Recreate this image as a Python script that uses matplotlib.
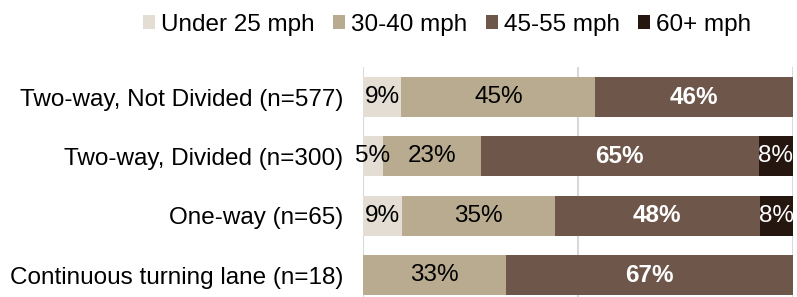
import matplotlib.pyplot as plt
import numpy as np

plt.rcParams['font.family'] = ['Liberation Sans', 'DejaVu Sans']

categories = ["Two-way, Not Divided (n=577)", "Two-way, Divided (n=300)",
              "One-way (n=65)", "Continuous turning lane (n=18)"]
series = ["Under 25 mph", "30-40 mph", "45-55 mph", "60+ mph"]
under_25 = [9.0, 4.7, 9.2, 0.0]
mph_30_40 = [45.1, 22.7, 35.4, 33.3]
mph_45_55 = [45.9, 64.6, 47.7, 66.7]
mph_60_plus = [0.0, 8.0, 7.7, 0.0]

colors = ["#E3DDD4", "#B9AB8F", "#6E564B", "#261610"]
label_colors = ["black", "black", "white", "white"]
label_weights = ["normal", "normal", "bold", "normal"]

fig = plt.figure(figsize=(7.97, 2.97), dpi=100)
ax = fig.add_axes([0.455, 0.0, 0.54, 0.775])

y = np.arange(len(categories))
left = np.zeros(len(categories))
for i, vals in enumerate([under_25, mph_30_40, mph_45_55, mph_60_plus]):
    vals = np.array(vals)
    ax.barh(y, vals, left=left, height=0.675, color=colors[i], label=series[i], zorder=2)
    for j, v in enumerate(vals):
        if v > 0:
            ax.text(left[j] + v / 2, y[j], "%d%%" % round(v), ha='center', va='center',
                    fontsize=17.5, color=label_colors[i], fontweight=label_weights[i], zorder=3)
    left = left + vals

ax.set_xlim(0, 100)
ax.set_ylim(3.37, -0.51)
ax.set_yticks(y)
ax.set_yticklabels(categories, fontsize=17.5)
ax.set_xticks([0, 50, 100])
ax.set_xticklabels([])
ax.tick_params(length=0, pad=14)
ax.grid(axis='x', color='#D9D9D9', linewidth=1.5, zorder=0)
for s in ax.spines.values():
    s.set_visible(False)

fig.legend(loc='center', bbox_to_anchor=(0.561, 0.917), ncol=4, frameon=False,
           fontsize=17.5, handlelength=0.5, handleheight=0.5, handletextpad=0.25,
           columnspacing=0.75, borderaxespad=0)

fig.savefig("out.png", dpi=100)
